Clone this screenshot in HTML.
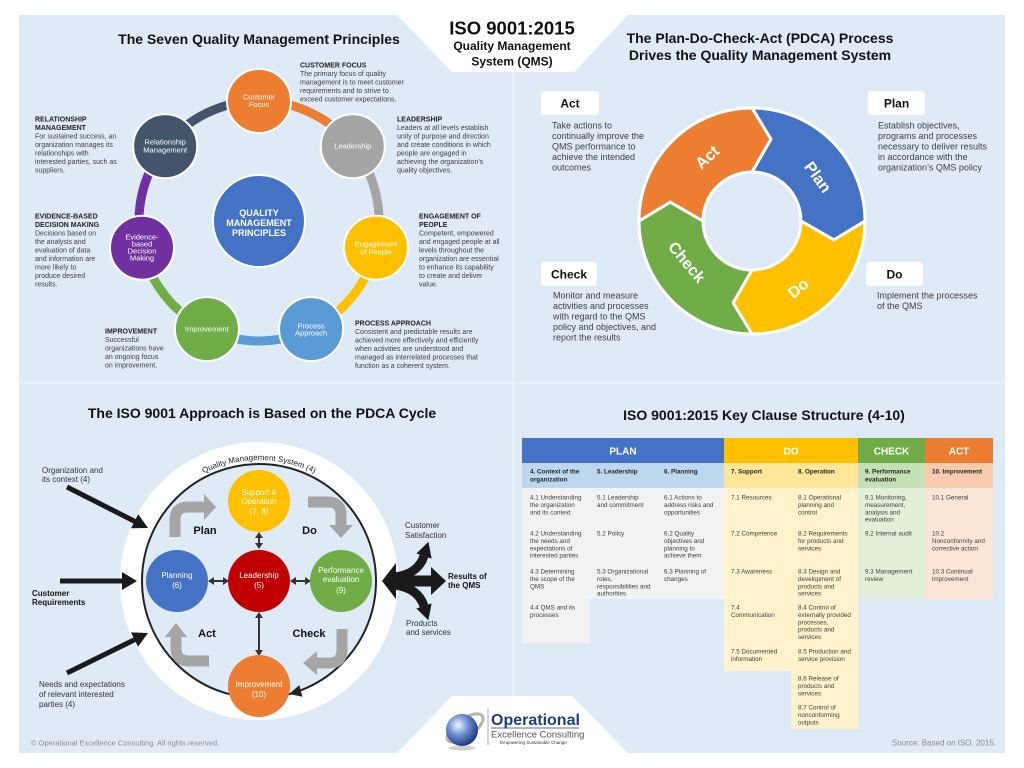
<!DOCTYPE html>
<html><head><meta charset="utf-8">
<style>
html,body{margin:0;padding:0;background:#fff;}
svg{display:block;font-family:"Liberation Sans",Arial,sans-serif;}
</style></head><body>
<svg width="1024" height="768" viewBox="0 0 1024 768" xmlns="http://www.w3.org/2000/svg">
<defs>
<radialGradient id="gl" cx="0.38" cy="0.35" r="0.7">
<stop offset="0" stop-color="#f2f6ff"/><stop offset="0.45" stop-color="#6d8fd6"/><stop offset="1" stop-color="#1b2f72"/>
</radialGradient>
</defs>
<rect width="1024" height="768" fill="#fff"/>
<rect x="19" y="15" width="986" height="738" fill="#deeaf6"/>
<polygon points="397,15 628,15 574,72 452,72" fill="#fff"/>
<polygon points="397,753 628,753 572,696 452,696" fill="#fff"/>
<line x1="513" y1="72" x2="513" y2="696" stroke="#eef4fb" stroke-width="1.2"/>
<line x1="19" y1="383" x2="1005" y2="383" stroke="#eef4fb" stroke-width="1.2"/>

<!-- Center title -->
<g fill="#111" font-weight="bold" text-anchor="middle">
<text x="512" y="34.5" font-size="18.5">ISO 9001:2015</text>
<text x="512" y="50" font-size="12">Quality Management</text>
<text x="512" y="65.5" font-size="12">System (QMS)</text>
</g>

<!-- ===== Top-left: Seven principles ===== -->
<text x="259" y="44" font-size="14" font-weight="bold" text-anchor="middle" fill="#111">The Seven Quality Management Principles</text>
<g fill="none" stroke-width="9">
<path d="M259,101 A120,120 0 0 1 352.8,146.2" stroke="#ed7d31"/>
<path d="M352.8,146.2 A120,120 0 0 1 376,247.7" stroke="#a5a5a5"/>
<path d="M376,247.7 A120,120 0 0 1 311.1,329.1" stroke="#ffc000"/>
<path d="M311.1,329.1 A120,120 0 0 1 206.9,329.1" stroke="#5b9bd5"/>
<path d="M206.9,329.1 A120,120 0 0 1 142,247.7" stroke="#70ad47"/>
<path d="M142,247.7 A120,120 0 0 1 165.2,146.2" stroke="#7030a0"/>
<path d="M165.2,146.2 A120,120 0 0 1 259,101" stroke="#44546a"/>
</g>
<g stroke="#fff" stroke-width="2">
<circle cx="259" cy="221" r="46" fill="#4472c4"/>
<circle cx="259" cy="101" r="32" fill="#ed7d31"/>
<circle cx="352.8" cy="146.2" r="32" fill="#a5a5a5"/>
<circle cx="376" cy="247.7" r="32" fill="#ffc000"/>
<circle cx="311.1" cy="329.1" r="32" fill="#5b9bd5"/>
<circle cx="206.9" cy="329.1" r="32" fill="#70ad47"/>
<circle cx="142" cy="247.7" r="32" fill="#7030a0"/>
<circle cx="165.2" cy="146.2" r="32" fill="#44546a"/>
</g>
<g fill="#fff" font-size="7.5" text-anchor="middle">
<text x="259" y="99.4">Customer</text><text x="259" y="106.9">Focus</text>
<text x="352.8" y="148.6">Leadership</text>
<text x="376" y="246.6">Engagement</text><text x="376" y="254.6">of People</text>
<text x="311.1" y="328.6">Process</text><text x="311.1" y="335.6">Approach</text>
<text x="206.9" y="331.6">Improvement</text>
<text x="142" y="239.6">Evidence-</text><text x="142" y="246.6">based</text><text x="142" y="253.6">Decision</text><text x="142" y="260.6">Making</text>
<text x="165.2" y="144.6">Relationship</text><text x="165.2" y="152.6">Management</text>
</g>
<g fill="#fff" font-size="9" font-weight="bold" text-anchor="middle">
<text x="259" y="216">QUALITY</text><text x="259" y="226">MANAGEMENT</text><text x="259" y="236">PRINCIPLES</text>
</g>
<g font-size="7" fill="#404040">
<text x="300" y="67.5" font-weight="bold" fill="#222">CUSTOMER FOCUS</text>
<text x="300" y="76">The primary focus of quality</text>
<text x="300" y="84.5">management is to meet customer</text>
<text x="300" y="93">requirements and to strive to</text>
<text x="300" y="101.5">exceed customer expectations.</text>

<text x="397" y="121.5" font-weight="bold" fill="#222">LEADERSHIP</text>
<text x="397" y="130">Leaders at all levels establish</text>
<text x="397" y="138.5">unity of purpose and direction</text>
<text x="397" y="147">and create conditions in which</text>
<text x="397" y="155.5">people are engaged in</text>
<text x="397" y="164">achieving the organization’s</text>
<text x="397" y="172.5">quality objectives.</text>

<text x="35" y="121.5" font-weight="bold" fill="#222">RELATIONSHIP</text>
<text x="35" y="130" font-weight="bold" fill="#222">MANAGEMENT</text>
<text x="35" y="138.5">For sustained success, an</text>
<text x="35" y="147">organization manages its</text>
<text x="35" y="155.5">relationships with</text>
<text x="35" y="164">interested parties, such as</text>
<text x="35" y="172.5">suppliers.</text>

<text x="35" y="218.5" font-weight="bold" fill="#222">EVIDENCE-BASED</text>
<text x="35" y="227" font-weight="bold" fill="#222">DECISION MAKING</text>
<text x="35" y="235.5">Decisions based on</text>
<text x="35" y="244">the analysis and</text>
<text x="35" y="252.5">evaluation of data</text>
<text x="35" y="261">and information are</text>
<text x="35" y="269.5">more likely to</text>
<text x="35" y="278">produce desired</text>
<text x="35" y="286.5">results.</text>

<text x="419" y="218.5" font-weight="bold" fill="#222">ENGAGEMENT OF</text>
<text x="419" y="227" font-weight="bold" fill="#222">PEOPLE</text>
<text x="419" y="235.5">Competent, empowered</text>
<text x="419" y="244">and engaged people at all</text>
<text x="419" y="252.5">levels throughout the</text>
<text x="419" y="261">organization are essential</text>
<text x="419" y="269.5">to enhance its capability</text>
<text x="419" y="278">to create and deliver</text>
<text x="419" y="286.5">value.</text>

<text x="105" y="333.5" font-weight="bold" fill="#222">IMPROVEMENT</text>
<text x="105" y="342">Successful</text>
<text x="105" y="350.5">organizations have</text>
<text x="105" y="359">an ongoing focus</text>
<text x="105" y="367.5">on improvement.</text>

<text x="355" y="325.5" font-weight="bold" fill="#222">PROCESS APPROACH</text>
<text x="355" y="334">Consistent and predictable results are</text>
<text x="355" y="342.5">achieved more effectively and efficiently</text>
<text x="355" y="351">when activities are understood and</text>
<text x="355" y="359.5">managed as interrelated processes that</text>
<text x="355" y="368">function as a coherent system.</text>
</g>

<!-- ===== Top-right: PDCA donut ===== -->
<g font-size="14" font-weight="bold" text-anchor="middle" fill="#111">
<text x="760" y="43">The Plan-Do-Check-Act (PDCA) Process</text>
<text x="760" y="60">Drives the Quality Management System</text>
</g>
<g stroke="#fff" stroke-width="3" stroke-linejoin="miter">
<path d="M752,108 A113,113 0 0 1 865,221 L833.9,239.9 L801,221 A49,49 0 0 0 752,172 L770.9,139.2 Z" fill="#4472c4"/>
<path d="M865,221 A113,113 0 0 1 752,334 L733.1,302.9 L752,270 A49,49 0 0 0 801,221 L833.9,239.9 Z" fill="#ffc000"/>
<path d="M752,334 A113,113 0 0 1 639,221 L670.2,202.1 L703,221 A49,49 0 0 0 752,270 L733.1,302.9 Z" fill="#70ad47"/>
<path d="M639,221 A113,113 0 0 1 752,108 L770.9,139.2 L752,172 A49,49 0 0 0 703,221 L670.2,202.1 Z" fill="#ed7d31"/>
</g>
<g fill="#fff" font-size="16" font-weight="bold" text-anchor="middle">
<text transform="translate(707,157) rotate(-42)" y="5.7">Act</text>
<text transform="translate(818,177) rotate(54)" y="5.7">Plan</text>
<text transform="translate(798,288) rotate(-40)" y="5.7">Do</text>
<text transform="translate(687,262) rotate(50)" y="5.7">Check</text>
</g>
<g fill="#fff">
<rect x="541" y="91" width="58" height="24" rx="3"/>
<rect x="868" y="91" width="57" height="24" rx="3"/>
<rect x="541" y="262" width="56" height="24" rx="3"/>
<rect x="866" y="262" width="57" height="24" rx="3"/>
</g>
<g fill="#111" font-size="12" font-weight="bold" text-anchor="middle">
<text x="570" y="107.5">Act</text>
<text x="896.5" y="107.5">Plan</text>
<text x="569" y="278.5">Check</text>
<text x="894.5" y="278.5">Do</text>
</g>
<g fill="#404040" font-size="9">
<text x="552" y="128.5">Take actions to</text>
<text x="552" y="139">continually improve the</text>
<text x="552" y="149.5">QMS performance to</text>
<text x="552" y="160">achieve the intended</text>
<text x="552" y="170.5">outcomes</text>
<text x="878" y="128.5">Establish objectives,</text>
<text x="878" y="139">programs and processes</text>
<text x="878" y="149.5">necessary to deliver results</text>
<text x="878" y="160">in accordance with the</text>
<text x="878" y="170.5">organization’s QMS policy</text>
<text x="553" y="298.5">Monitor and measure</text>
<text x="553" y="309">activities and processes</text>
<text x="553" y="319.5">with regard to the QMS</text>
<text x="553" y="330">policy and objectives, and</text>
<text x="553" y="340.5">report the results</text>
<text x="877" y="298.5">Implement the processes</text>
<text x="877" y="309">of the QMS</text>
</g>

<!-- ===== Bottom-left: PDCA cycle approach ===== -->
<text x="262" y="418" font-size="14" font-weight="bold" text-anchor="middle" fill="#111">The ISO 9001 Approach is Based on the PDCA Cycle</text>
<circle cx="259" cy="581" r="139" fill="#fff"/>
<circle cx="259" cy="581" r="117" fill="#deeaf6" stroke="#222" stroke-width="2"/>
<polygon points="289.3,694 302.5,696.7 299.3,685.1" fill="#222"/>
<path id="qarc" d="M138,581 A121,121 0 0 1 380,581" fill="none"/>
<text font-size="8" fill="#222"><textPath href="#qarc" startOffset="50%" text-anchor="middle">Quality Management System (4)</textPath></text>

<!-- gray curved arrows -->
<g fill="none" stroke="#a5a5a5" stroke-width="11">
<path d="M175,537 L175,520 Q175,507 188,507 L205,507"/>
<path d="M308,502 L328,502 Q341,502 341,515 L341,526"/>
<path d="M209,661 L189,661 Q176,661 176,648 L176,636"/>
<path d="M342,629 L342,650 Q342,663 329,663 L316,663"/>
</g>
<g fill="#a5a5a5">
<polygon points="204,494 216,507 204,520"/>
<polygon points="329,525 341,538 353,525"/>
<polygon points="165,637 176,623 187,637"/>
<polygon points="317,651 303,663 317,675"/>
</g>
<g fill="#111" font-size="11" font-weight="bold" text-anchor="middle">
<text x="205" y="534">Plan</text>
<text x="309.5" y="534">Do</text>
<text x="207" y="637">Act</text>
<text x="309" y="637">Check</text>
</g>

<!-- double arrows -->
<g stroke="#333" stroke-width="2">
<line x1="259" y1="537" x2="259" y2="544"/>
<line x1="213" y1="581" x2="224" y2="581"/>
<line x1="295" y1="581" x2="306" y2="581"/>
<line x1="259" y1="617" x2="259" y2="651"/>
</g>
<g fill="#333">
<polygon points="255,538 259,532 263,538"/><polygon points="255,543 259,549 263,543"/>
<polygon points="214,577 208,581 214,585"/><polygon points="223,577 229,581 223,585"/>
<polygon points="296,577 290,581 296,585"/><polygon points="305,577 311,581 305,585"/>
<polygon points="255,618 259,612 263,618"/><polygon points="255,650 259,656 263,650"/>
</g>

<g>
<circle cx="259" cy="501" r="31" fill="#ffc000"/>
<circle cx="177" cy="581" r="31" fill="#4472c4"/>
<circle cx="259" cy="581" r="31" fill="#c00000"/>
<circle cx="341" cy="581" r="31" fill="#70ad47"/>
<circle cx="259" cy="686" r="31" fill="#ed7d31"/>
</g>
<g fill="#fff" font-size="8" text-anchor="middle">
<text x="259" y="495">Support &amp;</text><text x="259" y="504">Operation</text><text x="259" y="514">(7, 8)</text>
<text x="177" y="578">Planning</text><text x="177" y="588">(6)</text>
<text x="259" y="578">Leadership</text><text x="259" y="588">(5)</text>
<text x="341" y="573">Performance</text><text x="341" y="582">evaluation</text><text x="341" y="593">(9)</text>
<text x="259" y="687">Improvement</text><text x="259" y="697">(10)</text>
</g>

<!-- input arrows -->
<g stroke="#1a1a1a" stroke-width="5">
<line x1="67" y1="487" x2="136" y2="522"/>
<line x1="60" y1="581" x2="124" y2="581"/>
<line x1="67" y1="673" x2="136" y2="639"/>
</g>
<g fill="#1a1a1a">
<polygon points="148,528 131,528.3 138.2,514.1"/>
<polygon points="137,581 122,572 122,590"/>
<polygon points="148,633 138,646.8 131,632.4"/>
</g>
<g fill="#333" font-size="8">
<text x="42" y="473">Organization and</text>
<text x="42" y="482">its context (4)</text>
<text x="39" y="687">Needs and expectations</text>
<text x="39" y="697">of relevant interested</text>
<text x="39" y="707">parties (4)</text>
<text x="405" y="528">Customer</text>
<text x="405" y="538">Satisfaction</text>
<text x="406" y="626">Products</text>
<text x="406" y="635">and services</text>
</g>
<g fill="#111" font-size="8" font-weight="bold">
<text x="32" y="596">Customer</text>
<text x="32" y="605">Requirements</text>
<text x="448" y="579">Results of</text>
<text x="448" y="588">the QMS</text>
</g>

<!-- output three-way arrow -->
<polygon points="382,581 396,563 396,599" fill="#1a1a1a"/>
<g fill="none" stroke="#1a1a1a">
<line x1="394" y1="581" x2="434" y2="581" stroke-width="11"/>
<path d="M395,577 Q418,574 424,556" stroke-width="9"/>
<path d="M395,585 Q418,588 424,606" stroke-width="9"/>
</g>
<g fill="#1a1a1a">
<polygon points="431,567 446,581 431,595"/>
<polygon points="416.4,553.5 428.4,541.7 431.6,558.6"/>
<polygon points="416.4,608.5 428.4,620.3 431.6,603.4"/>
</g>

<!-- ===== Bottom-right: Key clause table ===== -->
<text x="764" y="420" font-size="14" font-weight="bold" text-anchor="middle" fill="#111">ISO 9001:2015 Key Clause Structure (4-10)</text>
<rect x="522" y="438" width="202" height="25" fill="#4472c4"/>
<rect x="724" y="438" width="134" height="25" fill="#ffc000"/>
<rect x="858" y="438" width="67" height="25" fill="#70ad47"/>
<rect x="925" y="438" width="68" height="25" fill="#ed7d31"/>
<rect x="522" y="463" width="202" height="25" fill="#bdd7ee"/>
<rect x="724" y="463" width="134" height="25" fill="#ffe699"/>
<rect x="858" y="463" width="67" height="25" fill="#c5e0b4"/>
<rect x="925" y="463" width="68" height="25" fill="#f8cbad"/>
<rect x="522" y="488" width="68" height="155" fill="#f2f2f2"/>
<rect x="590" y="488" width="134" height="111" fill="#f2f2f2"/>
<rect x="724" y="488" width="67" height="183" fill="#fff2cc"/>
<rect x="791" y="488" width="67" height="241" fill="#fff2cc"/>
<rect x="858" y="488" width="67" height="111" fill="#e2f0d9"/>
<rect x="925" y="488" width="68" height="111" fill="#fbe5d6"/>
<g fill="#fff" font-size="10" font-weight="bold" text-anchor="middle">
<text x="623" y="454.5">PLAN</text>
<text x="791" y="454.5">DO</text>
<text x="891.5" y="454.5">CHECK</text>
<text x="959" y="454.5">ACT</text>
</g>
<g fill="#262626" font-size="6.3" font-weight="bold">
<text x="530" y="473.5">4. Context of the</text><text x="530" y="481.5">organization</text>
<text x="597" y="473.5">5. Leadership</text>
<text x="664" y="473.5">6. Planning</text>
<text x="731" y="473.5">7. Support</text>
<text x="798" y="473.5">8. Operation</text>
<text x="865" y="473.5">9. Performance</text><text x="865" y="481.5">evaluation</text>
<text x="932" y="473.5">10. Improvement</text>
</g>
<g fill="#404040" font-size="6.3">
<text x="530" y="499.5">4.1 Understanding</text><text x="530" y="506.9">the organization</text><text x="530" y="514.3">and its context</text>
<text x="530" y="535.5">4.2 Understanding</text><text x="530" y="542.9">the needs and</text><text x="530" y="550.3">expectations of</text><text x="530" y="557.7">interested parties</text>
<text x="530" y="573.5">4.3 Determining</text><text x="530" y="580.9">the scope of the</text><text x="530" y="588.3">QMS</text>
<text x="530" y="609.5">4.4 QMS and its</text><text x="530" y="616.9">processes</text>

<text x="597" y="499.5">5.1 Leadership</text><text x="597" y="506.9">and commitment</text>
<text x="597" y="535.5">5.2 Policy</text>
<text x="597" y="573.5">5.3 Organizational</text><text x="597" y="580.9">roles,</text><text x="597" y="588.3">responsibilities and</text><text x="597" y="595.7">authorities</text>

<text x="664" y="499.5">6.1 Actions to</text><text x="664" y="506.9">address risks and</text><text x="664" y="514.3">opportunities</text>
<text x="664" y="535.5">6.2 Quality</text><text x="664" y="542.9">objectives and</text><text x="664" y="550.3">planning to</text><text x="664" y="557.7">achieve them</text>
<text x="664" y="573.5">6.3 Planning of</text><text x="664" y="580.9">changes</text>

<text x="731" y="499.5">7.1 Resources</text>
<text x="731" y="535.5">7.2 Competence</text>
<text x="731" y="573.5">7.3 Awareness</text>
<text x="731" y="609.5">7.4</text><text x="731" y="616.9">Communication</text>
<text x="731" y="653.5">7.5 Documented</text><text x="731" y="660.9">information</text>

<text x="798" y="499.5">8.1 Operational</text><text x="798" y="506.9">planning and</text><text x="798" y="514.3">control</text>
<text x="798" y="535.5">8.2 Requirements</text><text x="798" y="542.9">for products and</text><text x="798" y="550.3">services</text>
<text x="798" y="573.5">8.3 Design and</text><text x="798" y="580.9">development of</text><text x="798" y="588.3">products and</text><text x="798" y="595.7">services</text>
<text x="798" y="609.5">8.4 Control of</text><text x="798" y="616.9">externally provided</text><text x="798" y="624.3">processes,</text><text x="798" y="631.7">products and</text><text x="798" y="639.1">services</text>
<text x="798" y="653.5">8.5 Production and</text><text x="798" y="660.9">service provision</text>
<text x="798" y="680.5">8.6 Release of</text><text x="798" y="687.9">products and</text><text x="798" y="695.3">services</text>
<text x="798" y="709.5">8.7 Control of</text><text x="798" y="716.9">nonconforming</text><text x="798" y="724.3">outputs</text>

<text x="865" y="499.5">9.1 Monitoring,</text><text x="865" y="506.9">measurement,</text><text x="865" y="514.3">analysis and</text><text x="865" y="521.7">evaluation</text>
<text x="865" y="535.5">9.2 Internal audit</text>
<text x="865" y="573.5">9.3 Management</text><text x="865" y="580.9">review</text>

<text x="932" y="499.5">10.1 General</text>
<text x="932" y="535.5">10.2</text><text x="932" y="542.9">Nonconformity and</text><text x="932" y="550.3">corrective action</text>
<text x="932" y="573.5">10.3 Continual</text><text x="932" y="580.9">improvement</text>
</g>

<!-- Footer & logo -->
<text x="31" y="745.5" font-size="7.5" fill="#8c8c8c">© Operational Excellence Consulting. All rights reserved.</text>
<text x="996" y="745.5" font-size="8" fill="#8c8c8c" text-anchor="end">Source: Based on ISO, 2015.</text>
<ellipse cx="462" cy="748" rx="13" ry="2.5" fill="#d0d0d0"/>
<ellipse cx="465" cy="728" rx="21" ry="9" fill="none" stroke="#b5b5b5" stroke-width="3" transform="rotate(-35 465 728)"/>
<circle cx="462" cy="730" r="16" fill="url(#gl)"/>
<line x1="488" y1="708" x2="488" y2="745" stroke="#9a9a9a" stroke-width="0.8"/>
<text x="491" y="725" font-size="16" font-weight="bold" fill="#1f3a8a">Operational</text>
<line x1="491" y1="728" x2="579" y2="728" stroke="#1f3a8a" stroke-width="0.8"/>
<text x="491" y="737.5" font-size="9.5" fill="#555">Excellence Consulting</text>
<text x="500" y="744" font-size="4.5" fill="#333">Empowering Sustainable Change</text>
</svg>
</body></html>
